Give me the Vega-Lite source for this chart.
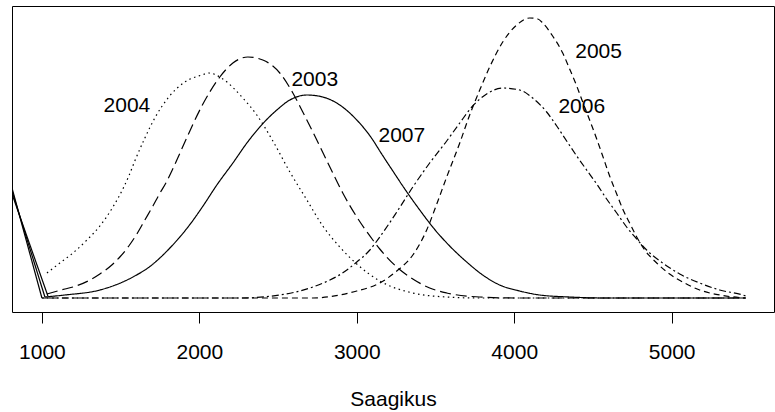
{
  "$schema": "https://vega.github.io/schema/vega-lite/v6.json",
  "width": 762,
  "height": 306,
  "autosize": {"type": "none"},
  "padding": {"left": 12, "top": 6, "right": 1, "bottom": 100},
  "background": "white",
  "config": {
    "view": {"stroke": "#000000", "strokeWidth": 1},
    "font": "Liberation Sans"
  },
  "datasets": {
    "curves": [
      {"year": "2004", "x": 1032, "y": 25}, {"year": "2004", "x": 1114, "y": 35}, {"year": "2004", "x": 1197, "y": 45},
      {"year": "2004", "x": 1286, "y": 58}, {"year": "2004", "x": 1368, "y": 72}, {"year": "2004", "x": 1451, "y": 91},
      {"year": "2004", "x": 1514, "y": 109}, {"year": "2004", "x": 1552, "y": 122}, {"year": "2004", "x": 1590, "y": 137},
      {"year": "2004", "x": 1654, "y": 160}, {"year": "2004", "x": 1717, "y": 180}, {"year": "2004", "x": 1806, "y": 201},
      {"year": "2004", "x": 1908, "y": 216}, {"year": "2004", "x": 2016, "y": 223}, {"year": "2004", "x": 2060, "y": 225},
      {"year": "2004", "x": 2149, "y": 219}, {"year": "2004", "x": 2276, "y": 200}, {"year": "2004", "x": 2365, "y": 183},
      {"year": "2004", "x": 2467, "y": 157}, {"year": "2004", "x": 2575, "y": 126}, {"year": "2004", "x": 2683, "y": 98},
      {"year": "2004", "x": 2784, "y": 72}, {"year": "2004", "x": 2892, "y": 51}, {"year": "2004", "x": 3000, "y": 34},
      {"year": "2004", "x": 3146, "y": 17}, {"year": "2004", "x": 3356, "y": 5}, {"year": "2004", "x": 3571, "y": 1},
      {"year": "2004", "x": 3781, "y": 0}, {"year": "2004", "x": 5470, "y": 0},

      {"year": "2003", "x": 1032, "y": 4}, {"year": "2003", "x": 1146, "y": 9}, {"year": "2003", "x": 1197, "y": 11},
      {"year": "2003", "x": 1317, "y": 19}, {"year": "2003", "x": 1368, "y": 24}, {"year": "2003", "x": 1444, "y": 33},
      {"year": "2003", "x": 1495, "y": 41}, {"year": "2003", "x": 1552, "y": 52}, {"year": "2003", "x": 1603, "y": 64},
      {"year": "2003", "x": 1654, "y": 78}, {"year": "2003", "x": 1705, "y": 92}, {"year": "2003", "x": 1743, "y": 103},
      {"year": "2003", "x": 1794, "y": 117}, {"year": "2003", "x": 1825, "y": 127}, {"year": "2003", "x": 1857, "y": 138},
      {"year": "2003", "x": 1908, "y": 156}, {"year": "2003", "x": 2016, "y": 192}, {"year": "2003", "x": 2130, "y": 221},
      {"year": "2003", "x": 2213, "y": 235}, {"year": "2003", "x": 2308, "y": 241}, {"year": "2003", "x": 2403, "y": 238},
      {"year": "2003", "x": 2511, "y": 225}, {"year": "2003", "x": 2594, "y": 205}, {"year": "2003", "x": 2657, "y": 186},
      {"year": "2003", "x": 2746, "y": 158}, {"year": "2003", "x": 2829, "y": 131}, {"year": "2003", "x": 2911, "y": 105},
      {"year": "2003", "x": 3000, "y": 81}, {"year": "2003", "x": 3102, "y": 58}, {"year": "2003", "x": 3146, "y": 49},
      {"year": "2003", "x": 3254, "y": 31}, {"year": "2003", "x": 3356, "y": 19}, {"year": "2003", "x": 3463, "y": 10},
      {"year": "2003", "x": 3571, "y": 5}, {"year": "2003", "x": 3781, "y": 1}, {"year": "2003", "x": 4000, "y": 0},
      {"year": "2003", "x": 5470, "y": 0},

      {"year": "2007", "x": 1019, "y": 1}, {"year": "2007", "x": 1146, "y": 3}, {"year": "2007", "x": 1368, "y": 8},
      {"year": "2007", "x": 1527, "y": 17}, {"year": "2007", "x": 1578, "y": 21}, {"year": "2007", "x": 1698, "y": 33},
      {"year": "2007", "x": 1749, "y": 40}, {"year": "2007", "x": 1825, "y": 52}, {"year": "2007", "x": 1876, "y": 61},
      {"year": "2007", "x": 1933, "y": 72}, {"year": "2007", "x": 2019, "y": 91}, {"year": "2007", "x": 2111, "y": 113},
      {"year": "2007", "x": 2213, "y": 135}, {"year": "2007", "x": 2302, "y": 155}, {"year": "2007", "x": 2384, "y": 171},
      {"year": "2007", "x": 2492, "y": 188}, {"year": "2007", "x": 2575, "y": 198}, {"year": "2007", "x": 2683, "y": 203},
      {"year": "2007", "x": 2784, "y": 201}, {"year": "2007", "x": 2892, "y": 193}, {"year": "2007", "x": 3000, "y": 178},
      {"year": "2007", "x": 3102, "y": 158}, {"year": "2007", "x": 3146, "y": 147}, {"year": "2007", "x": 3229, "y": 127},
      {"year": "2007", "x": 3318, "y": 106}, {"year": "2007", "x": 3400, "y": 88}, {"year": "2007", "x": 3482, "y": 71},
      {"year": "2007", "x": 3590, "y": 52}, {"year": "2007", "x": 3698, "y": 36}, {"year": "2007", "x": 3800, "y": 23},
      {"year": "2007", "x": 3908, "y": 13}, {"year": "2007", "x": 4035, "y": 7}, {"year": "2007", "x": 4162, "y": 3},
      {"year": "2007", "x": 4352, "y": 1}, {"year": "2007", "x": 4550, "y": 0}, {"year": "2007", "x": 5470, "y": 0},

      {"year": "2005", "x": 1000, "y": 0}, {"year": "2005", "x": 2721, "y": 0}, {"year": "2005", "x": 2892, "y": 3},
      {"year": "2005", "x": 3000, "y": 7}, {"year": "2005", "x": 3146, "y": 15}, {"year": "2005", "x": 3254, "y": 27},
      {"year": "2005", "x": 3356, "y": 43}, {"year": "2005", "x": 3444, "y": 68}, {"year": "2005", "x": 3508, "y": 94},
      {"year": "2005", "x": 3571, "y": 121}, {"year": "2005", "x": 3654, "y": 155}, {"year": "2005", "x": 3717, "y": 183},
      {"year": "2005", "x": 3781, "y": 208}, {"year": "2005", "x": 3844, "y": 231}, {"year": "2005", "x": 3927, "y": 256},
      {"year": "2005", "x": 4016, "y": 273}, {"year": "2005", "x": 4098, "y": 280}, {"year": "2005", "x": 4150, "y": 279},
      {"year": "2005", "x": 4181, "y": 275}, {"year": "2005", "x": 4244, "y": 262}, {"year": "2005", "x": 4308, "y": 245},
      {"year": "2005", "x": 4352, "y": 229}, {"year": "2005", "x": 4397, "y": 212}, {"year": "2005", "x": 4435, "y": 196},
      {"year": "2005", "x": 4479, "y": 178}, {"year": "2005", "x": 4524, "y": 159}, {"year": "2005", "x": 4562, "y": 142},
      {"year": "2005", "x": 4606, "y": 122}, {"year": "2005", "x": 4651, "y": 104}, {"year": "2005", "x": 4689, "y": 89},
      {"year": "2005", "x": 4733, "y": 75}, {"year": "2005", "x": 4778, "y": 61}, {"year": "2005", "x": 4829, "y": 48},
      {"year": "2005", "x": 4905, "y": 35}, {"year": "2005", "x": 4987, "y": 24}, {"year": "2005", "x": 5070, "y": 16},
      {"year": "2005", "x": 5178, "y": 8}, {"year": "2005", "x": 5305, "y": 3}, {"year": "2005", "x": 5470, "y": 0},

      {"year": "2006", "x": 1000, "y": 0}, {"year": "2006", "x": 2257, "y": 0}, {"year": "2006", "x": 2511, "y": 3},
      {"year": "2006", "x": 2721, "y": 11}, {"year": "2006", "x": 2937, "y": 28}, {"year": "2006", "x": 3000, "y": 36},
      {"year": "2006", "x": 3083, "y": 48}, {"year": "2006", "x": 3146, "y": 61}, {"year": "2006", "x": 3254, "y": 86},
      {"year": "2006", "x": 3356, "y": 111}, {"year": "2006", "x": 3463, "y": 135}, {"year": "2006", "x": 3571, "y": 157},
      {"year": "2006", "x": 3654, "y": 175}, {"year": "2006", "x": 3736, "y": 192}, {"year": "2006", "x": 3825, "y": 204},
      {"year": "2006", "x": 3927, "y": 210}, {"year": "2006", "x": 4035, "y": 208}, {"year": "2006", "x": 4117, "y": 200},
      {"year": "2006", "x": 4206, "y": 186}, {"year": "2006", "x": 4270, "y": 172}, {"year": "2006", "x": 4333, "y": 157},
      {"year": "2006", "x": 4397, "y": 142}, {"year": "2006", "x": 4460, "y": 128}, {"year": "2006", "x": 4524, "y": 114},
      {"year": "2006", "x": 4587, "y": 99}, {"year": "2006", "x": 4651, "y": 85}, {"year": "2006", "x": 4714, "y": 71},
      {"year": "2006", "x": 4778, "y": 59}, {"year": "2006", "x": 4841, "y": 48}, {"year": "2006", "x": 4943, "y": 35},
      {"year": "2006", "x": 5051, "y": 24}, {"year": "2006", "x": 5178, "y": 15}, {"year": "2006", "x": 5305, "y": 8},
      {"year": "2006", "x": 5451, "y": 3}, {"year": "2006", "x": 5470, "y": 2}
    ],
    "edges": [
      {"seg": "a", "x": 810, "y": 110}, {"seg": "a", "x": 1000, "y": 0},
      {"seg": "b", "x": 810, "y": 107}, {"seg": "b", "x": 1019, "y": 1},
      {"seg": "c", "x": 810, "y": 104}, {"seg": "c", "x": 1038, "y": 2}
    ],
    "labels": [
      {"label": "2004", "x": 1540, "y": 192},
      {"label": "2003", "x": 2733, "y": 218},
      {"label": "2007", "x": 3286, "y": 162},
      {"label": "2005", "x": 4536, "y": 246},
      {"label": "2006", "x": 4429, "y": 191}
    ]
  },
  "layer": [
    {
      "data": {"name": "curves"},
      "mark": {"type": "line", "color": "#000000", "strokeWidth": 1.2, "clip": true, "interpolate": "monotone"},
      "encoding": {
        "x": {"field": "x", "type": "quantitative",
              "scale": {"domain": [810, 5650], "nice": false, "zero": false},
              "axis": {"values": [1000, 2000, 3000, 4000, 5000], "format": "d", "domain": false, "grid": false,
                       "tickSize": 11, "tickColor": "#000000", "tickWidth": 1,
                       "labelFont": "Liberation Sans", "labelFontSize": 21, "labelColor": "#000000",
                       "labelPadding": 18, "labelFlush": false,
                       "title": "Saagikus", "titleFont": "Liberation Sans", "titleFontSize": 21,
                       "titleFontWeight": "normal", "titleColor": "#000000", "titlePadding": 26}},
        "y": {"field": "y", "type": "quantitative",
              "scale": {"domain": [-14, 292], "nice": false, "zero": false},
              "axis": null},
        "strokeDash": {"field": "year", "type": "nominal",
                       "scale": {"domain": ["2003", "2004", "2005", "2006", "2007"],
                                 "range": [[11, 5], [1.5, 3.5], [6, 4], [2, 3, 7, 3], [1, 0]]},
                       "legend": null},
        "order": {"field": "x", "type": "quantitative"}
      }
    },
    {
      "data": {"name": "edges"},
      "mark": {"type": "line", "color": "#000000", "strokeWidth": 1.2, "clip": true},
      "encoding": {
        "x": {"field": "x", "type": "quantitative"},
        "y": {"field": "y", "type": "quantitative"},
        "detail": {"field": "seg", "type": "nominal"}
      }
    },
    {
      "data": {"name": "labels"},
      "mark": {"type": "text", "font": "Liberation Sans", "fontSize": 21, "color": "#000000",
               "align": "center", "baseline": "middle"},
      "encoding": {
        "x": {"field": "x", "type": "quantitative"},
        "y": {"field": "y", "type": "quantitative"},
        "text": {"field": "label", "type": "nominal"}
      }
    }
  ]
}
